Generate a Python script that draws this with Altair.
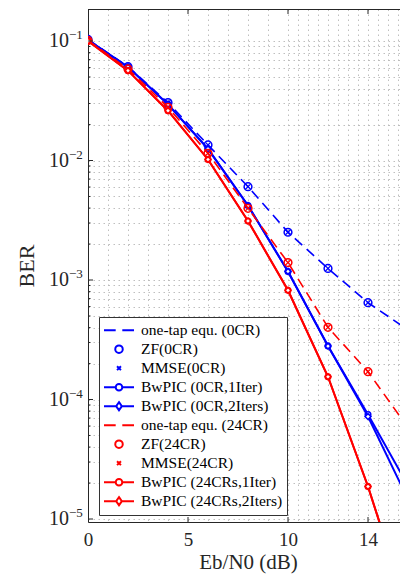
import altair as alt
import pandas as pd

# ---------------- data ----------------
x_db = [0, 2, 4, 6, 8, 10, 12, 14, 16]
onetap_0cr = [0.103, 0.061, 0.0305, 0.0135, 0.00604, 0.00251, 0.00125, 0.000646, 0.000382]
bwpic_0cr_1iter = [0.102, 0.0605, 0.0295, 0.0125, 0.0042, 0.00118, 0.00028, 7.5e-05, 1.9e-05]
bwpic_0cr_2iters = [0.102, 0.0605, 0.0295, 0.0125, 0.0042, 0.00118, 0.00028, 7.2e-05, 1.46e-05]
onetap_24cr = [0.101, 0.0584, 0.0279, 0.0115, 0.00398, 0.0014, 0.000402, 0.000171, 5.8e-05]
bwpic_24cr_1iter = [0.1, 0.0565, 0.0261, 0.0102, 0.00312, 0.00082, 0.000155, 1.87e-05, 1.7e-06]
bwpic_24cr_2iters = [0.1, 0.0565, 0.0261, 0.0102, 0.00312, 0.00082, 0.000155, 1.87e-05, 1.7e-06]

legend_names = [
    "one-tap equ. (0CR)", "ZF(0CR)", "MMSE(0CR)", "BwPIC (0CR,1Iter)", "BwPIC (0CR,2Iters)",
    "one-tap equ. (24CR)", "ZF(24CR)", "MMSE(24CR)", "BwPIC (24CRs,1Iter)", "BwPIC (24CRs,2Iters)",
]
x_label_values = [0, 5, 10, 14]
y_decades = [1e-1, 1e-2, 1e-3, 1e-4, 1e-5]
y_exponents = ["\u22121", "\u22122", "\u22123", "\u22124", "\u22125"]

# ---------------- styles ----------------
BLUE = "#0000ff"
RED = "#ff0000"
AX = "#262626"
FONT = "Liberation Serif"
W, H = 312, 513
X_DOMAIN = [0, 15.6]
Y_DOMAIN = [9.44e-06, 0.1853]

x_grid = [float(v) for v in range(0, 11)] + [10.5 + 0.5 * i for i in range(11)]
y_minor = [k * 10.0 ** e for e in range(-5, 0) for k in range(2, 10) if k * 10.0 ** e < Y_DOMAIN[1]]
y_grid = sorted(y_decades + y_minor)

x_scale = alt.Scale(domain=X_DOMAIN, nice=False, zero=False)
y_scale = alt.Scale(type="log", domain=Y_DOMAIN, nice=False)

grid_kw = dict(grid=True, gridDash=[1.5, 3.5], gridColor="#b8b8b8", gridWidth=1, gridOpacity=0.9,
               domain=True, domainColor=AX, domainWidth=1)
x_axis = alt.Axis(
    values=x_grid,
    labelExpr=f"indexof({x_label_values}, datum.value) >= 0 ? datum.label : ''",
    labelOverlap=False, labelFlush=False, ticks=False,
    labelFont=FONT, labelFontSize=19, labelColor=AX, labelPadding=8,
    title="Eb/N0 (dB)", titleFont=FONT, titleFontSize=21, titleFontWeight="normal",
    titleColor=AX, titleX=W / 2 + 4, titleY=46, titleBaseline="alphabetic", titleAlign="center",
    **grid_kw,
)
y_axis = alt.Axis(
    values=y_grid, labels=False, ticks=False,
    title="BER", titleFont=FONT, titleFontSize=22, titleFontWeight="normal", titleColor=AX,
    titleX=-62, titleY=H / 2, titleAngle=270, titleAlign="center", titleBaseline="middle",
    **grid_kw,
)

X = alt.X("x:Q", scale=x_scale, axis=x_axis)
Y = alt.Y("ber:Q", scale=y_scale, axis=y_axis)


def frame(values):
    return pd.DataFrame({"x": x_db, "ber": values})


def line(values, color, dash=None, width=2.0):
    kw = dict(color=color, strokeWidth=width, clip=True)
    if dash:
        kw["strokeDash"] = dash
    return alt.Chart(frame(values)).mark_line(**kw).encode(x=X, y=Y)


def marker(values, color, shape, size, width=1.5, fill=None):
    if fill:
        m = alt.Chart(frame(values)).mark_point(shape=shape, size=size, filled=True, fill=fill,
                                                stroke=color, strokeWidth=width, opacity=1, clip=True)
    else:
        m = alt.Chart(frame(values)).mark_point(shape=shape, size=size, filled=False,
                                                color=color, strokeWidth=width, opacity=1, clip=True)
    return m.encode(x=X, y=Y)


XSHAPE = "M-1,-1L1,1M1,-1L-1,1"

layers = []
for color, onetap, it1, it2 in [
    (BLUE, onetap_0cr, bwpic_0cr_1iter, bwpic_0cr_2iters),
    (RED, onetap_24cr, bwpic_24cr_1iter, bwpic_24cr_2iters),
]:
    layers += [
        line(onetap, color, dash=[10, 6], width=1.6),
        marker(onetap, color, "circle", 60, 1.5),
        marker(onetap, color, XSHAPE, 26, 1.3),
        line(it1, color, width=2.0),
        marker(it1, color, "circle", 30, 1.6, fill="white"),
        line(it2, color, width=2.0),
        marker(it2, color, "diamond", 34, 1.6, fill="white"),
    ]

# inward tick marks (MATLAB style) and top frame line
dec_df = pd.DataFrame({"ber": y_decades, "base": ["10"] * len(y_decades), "exp": y_exponents})
minor_df = pd.DataFrame({"ber": y_minor})
xt_df = pd.DataFrame({"x": [v for v in x_label_values if v > 0]})

tick = dict(color=AX, strokeWidth=1)
layers += [
    alt.Chart(dec_df).mark_rule(**tick).encode(y=alt.value(0.5), x=alt.value(0), x2=alt.value(W)),
    alt.Chart(dec_df).mark_rule(**tick).encode(y=Y, x=alt.value(0), x2=alt.value(5)),
    alt.Chart(minor_df).mark_rule(**tick).encode(y=Y, x=alt.value(0), x2=alt.value(2.5)),
    alt.Chart(xt_df).mark_rule(**tick).encode(x=X, y=alt.value(H), y2=alt.value(H - 5)),
    alt.Chart(xt_df).mark_rule(**tick).encode(x=X, y=alt.value(0), y2=alt.value(5)),
    # y tick labels 10^k
    alt.Chart(dec_df).mark_text(font=FONT, fontSize=20, align="right", baseline="middle", color=AX)
    .encode(y=Y, x=alt.value(-19), text="base:N"),
    alt.Chart(dec_df).mark_text(font=FONT, fontSize=13, align="left", baseline="middle", dy=-6, color=AX)
    .encode(y=Y, x=alt.value(-19), text="exp:N"),
]

# legend built from a hidden layer
legend_paths = [
    "M-1,0L-0.22,0M0.22,0L1,0",
    "M-0.25,0A0.25,0.25 0 1,0 0.25,0A0.25,0.25 0 1,0 -0.25,0Z",
    "M-0.13,-0.13L0.13,0.13M0.13,-0.13L-0.13,0.13",
    "M-1,0L-0.22,0M0.22,0L1,0M-0.22,0A0.22,0.22 0 1,0 0.22,0A0.22,0.22 0 1,0 -0.22,0Z",
    "M-1,0L-0.19,0M0.19,0L1,0M0,-0.27L0.19,0L0,0.27L-0.19,0Z",
] * 2
legend_colors = [BLUE] * 5 + [RED] * 5

leg = alt.Legend(
    title=None, orient="none", legendX=11, legendY=308,
    symbolSize=900, symbolStrokeWidth=2, symbolOpacity=1, symbolFillColor="transparent",
    clipHeight=18.4, rowPadding=0, padding=4, labelOffset=6,
    labelFont=FONT, labelFontSize=15.5, labelColor="#000", labelLimit=300,
    strokeColor="#333", fillColor="white", cornerRadius=0,
)
legend_layer = alt.Chart(pd.DataFrame({"name": legend_names})).mark_point(
    filled=False, opacity=0
).encode(
    shape=alt.Shape("name:N", scale=alt.Scale(domain=legend_names, range=legend_paths), legend=leg),
    stroke=alt.Stroke("name:N", scale=alt.Scale(domain=legend_names, range=legend_colors), legend=leg),
)
layers.append(legend_layer)

chart = alt.layer(*layers).properties(
    width=W, height=H,
    padding={"left": 80, "top": 1, "right": 0, "bottom": 52},
    autosize=alt.AutoSizeParams(type="none"),
).configure_view(stroke=None).configure(background="white")

chart.save("out.html", embed_options={"renderer": "svg", "actions": False})
